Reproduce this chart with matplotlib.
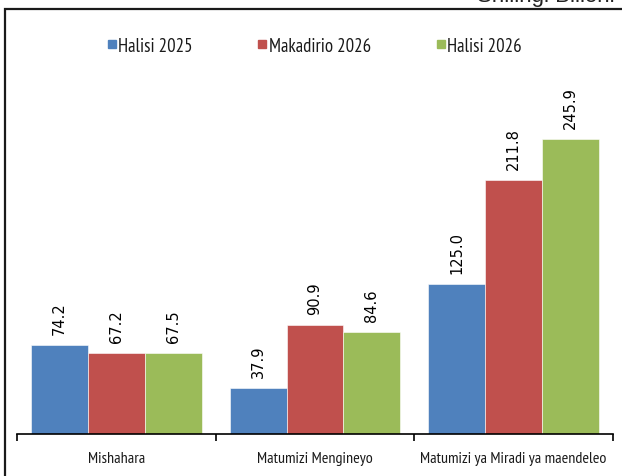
import numpy as np
import matplotlib.pyplot as plt
from matplotlib.patches import Rectangle
from matplotlib.lines import Line2D

plt.rcParams['font.family'] = ['PT Sans Narrow', 'Roboto Condensed', 'DejaVu Sans']

categories = ['Mishahara', 'Matumizi Mengineyo', 'Matumizi ya Miradi ya maendeleo']
series_names = ['Halisi 2025', 'Makadirio 2026', 'Halisi 2026']
halisi_2025 = [74.2, 37.9, 125.0]
makadirio_2026 = [67.2, 90.9, 211.8]
halisi_2026 = [67.5, 84.6, 245.9]
colors = ['#4F81BD', '#C0504D', '#9BBB59']

fig = plt.figure(figsize=(6.22, 4.77), dpi=100)

# outer frame (left and top edges visible)
fig.patches.append(Rectangle((5 / 622, -0.1), 1.2, 1 - 10 / 477 + 0.1,
                             transform=fig.transFigure, fill=False,
                             edgecolor='#1a1a1a', linewidth=1.6))
fig.text(615 / 622, 1 - 2 / 477, 'Shilingi Bilioni', ha='right', va='baseline',
         fontsize=16, color='#222222', family='Liberation Sans')

ax = fig.add_axes([17 / 622, 42 / 477, 596 / 622, 395 / 477])
x = np.arange(len(categories))
w = 0.2864
data = [halisi_2025, makadirio_2026, halisi_2026]
for i, (vals, col) in enumerate(zip(data, colors)):
    bars = ax.bar(x + (i - 1) * w, vals, width=w, color=col,
                  edgecolor='white', linewidth=0.4)
    for b, v in zip(bars, vals):
        ax.annotate(f'{v:.1f}', (b.get_x() + b.get_width() / 2, v),
                    xytext=(0, 8), textcoords='offset points',
                    ha='center', va='bottom', rotation=90,
                    fontsize=10.5, family='DejaVu Sans')

ax.set_xlim(-0.5, 2.5)
ax.set_ylim(0, 329)
for s in ['top', 'right', 'left']:
    ax.spines[s].set_visible(False)
ax.spines['bottom'].set_linewidth(1.2)
ax.set_yticks([])
ax.set_xticks([-0.5, 0.5, 1.5, 2.5])
ax.set_xticklabels([])
ax.tick_params(axis='x', which='major', length=5, width=1.2, direction='out')
ax.set_xticks(x, minor=True)
ax.set_xticklabels(categories, minor=True, fontsize=11.5, color='#1a1a1a')
ax.tick_params(axis='x', which='minor', length=0, pad=12)

handles = [Line2D([], [], marker='s', linestyle='none', markersize=6,
                  markerfacecolor=c, markeredgecolor=c) for c in colors]
fig.legend(handles, series_names, loc='center', bbox_to_anchor=(314 / 622, 1 - 47 / 477),
           ncol=3, frameon=False, fontsize=13.5, handletextpad=0.05,
           columnspacing=3.4, handlelength=0.6, labelcolor='#1a1a1a')

fig.savefig('out.png', dpi=100)
